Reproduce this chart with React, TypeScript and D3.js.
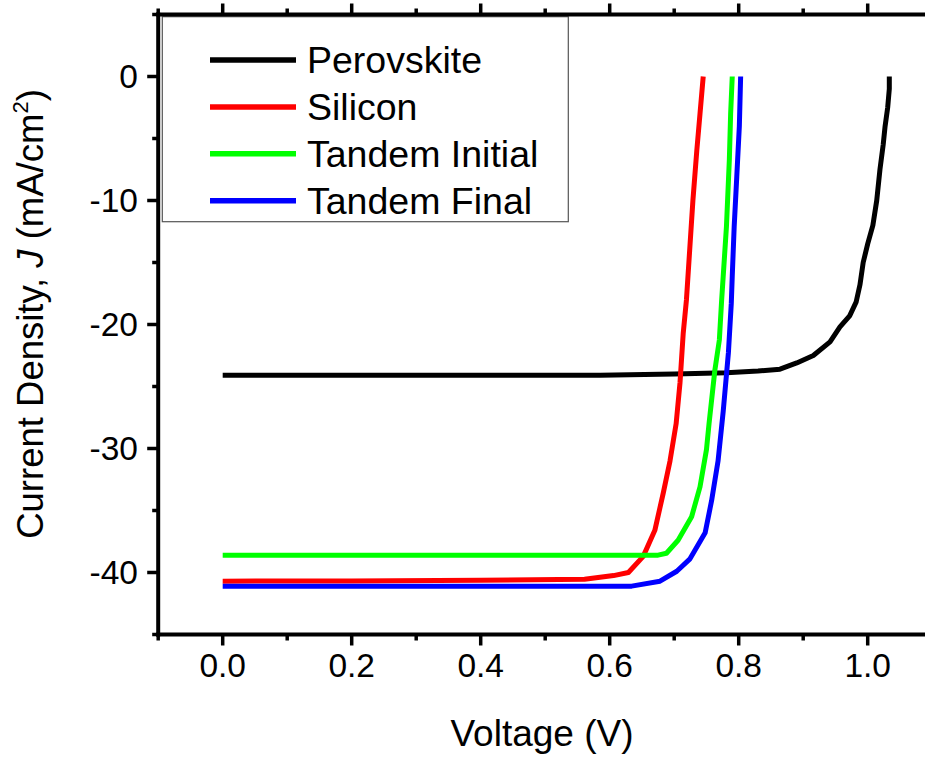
import React from "react";
import * as d3 from "d3";

const seriesNames = ["Perovskite", "Silicon", "Tandem Initial", "Tandem Final"];
const seriesColors = ["#000000", "#ff0000", "#00ff00", "#0000ff"];

const perovskiteV = [0, 0.2, 0.4, 0.585, 0.7, 0.781, 0.83, 0.864, 0.89, 0.9157, 0.9416, 0.957, 0.972, 0.982, 0.988, 0.993, 1.0, 1.008, 1.014, 1.019, 1.024, 1.027, 1.031, 1.0335, 1.0335];
const perovskiteJ = [-24.1, -24.1, -24.1, -24.1, -24.0, -23.9, -23.75, -23.6, -23.1, -22.5, -21.4, -20.2, -19.3, -18.2, -16.8, -15.0, -13.5, -12.0, -10.0, -7.5, -5.5, -4.0, -2.5, -1.0, 0];

const siliconV = [0, 0.2, 0.4, 0.561, 0.606, 0.629, 0.652, 0.67, 0.683, 0.6935, 0.703, 0.709, 0.714, 0.719, 0.724, 0.729, 0.735, 0.74, 0.745];
const siliconJ = [-40.7, -40.68, -40.63, -40.55, -40.25, -40.0, -38.7, -36.6, -33.6, -31.0, -28.0, -24.7, -20.7, -18.0, -14.0, -10.0, -6.0, -3.0, 0];

const initialV = [0, 0.2, 0.4, 0.6, 0.675, 0.688, 0.706, 0.727, 0.74, 0.75, 0.754, 0.763, 0.77, 0.7736, 0.776, 0.781, 0.7855, 0.7875, 0.79];
const initialJ = [-38.6, -38.6, -38.6, -38.6, -38.6, -38.45, -37.4, -35.5, -33.1, -30.1, -28.0, -23.7, -21.25, -18.0, -16.1, -12.1, -6.7, -3.0, 0];

const finalV = [0, 0.2, 0.4, 0.634, 0.678, 0.704, 0.7245, 0.748, 0.758, 0.768, 0.776, 0.784, 0.7885, 0.790, 0.793, 0.797, 0.801, 0.803];
const finalJ = [-41.1, -41.1, -41.1, -41.1, -40.7, -39.9, -38.9, -36.8, -34.2, -31.0, -27.0, -22.3, -18.3, -16.1, -12.1, -8.1, -4.0, 0];

const seriesV = [perovskiteV, siliconV, initialV, finalV];
const seriesJ = [perovskiteJ, siliconJ, initialJ, finalJ];

const xMajorTicks = [0, 0.2, 0.4, 0.6, 0.8, 1.0];
const xMinorTicks = [-0.1, 0.1, 0.3, 0.5, 0.7, 0.9, 1.1];
const yMajorTicks = [0, -10, -20, -30, -40];
const yMinorTicks = [5, -5, -15, -25, -35, -45];

const FONT = "'Liberation Sans', Arial, sans-serif";

export default function App() {
  const x = d3.scaleLinear().domain([-0.1, 1.1]).range([158.2, 932.2]);
  const y = d3.scaleLinear().domain([-45, 5]).range([634.5, 14.5]);
  const line = d3
    .line<[number, number]>()
    .x((d) => x(d[0]))
    .y((d) => y(d[1]));

  const left = x(-0.1);
  const right = x(1.1);
  const top = y(5);
  const bottom = y(-45);
  const axisW = 4;

  return (
    <svg
      width={925}
      height={760}
      style={{ position: "absolute", left: 0, top: 0, background: "#fff" }}
      fontFamily={FONT}
    >
      <rect x={0} y={0} width={925} height={760} fill="#fff" />
      {seriesV.map((vs, i) => {
        const pts: [number, number][] = vs.map((v, k) => [v, seriesJ[i][k]]);
        return (
          <path
            key={i}
            d={line(pts) || ""}
            fill="none"
            stroke={seriesColors[i]}
            strokeWidth={5}
            strokeLinejoin="round"
          />
        );
      })}

      <rect x={162.3} y={16.7} width={406} height={205} fill="#fff" stroke="#555" strokeWidth={1.2} />
      {seriesNames.map((name, i) => {
        const ly = 60 + i * 46.9;
        return (
          <g key={name}>
            <line x1={210} x2={296} y1={ly} y2={ly} stroke={seriesColors[i]} strokeWidth={5.5} />
            <text x={307} y={ly} dy="0.35em" fontSize={37.5} fill="#000">
              {name}
            </text>
          </g>
        );
      })}

      <line x1={left} x2={left} y1={top - 2} y2={bottom + 2} stroke="#000" strokeWidth={axisW} />
      <line x1={left - 2} x2={right + 2} y1={bottom} y2={bottom} stroke="#000" strokeWidth={axisW} />
      <line x1={left - 2} x2={right + 2} y1={top} y2={top} stroke="#000" strokeWidth={axisW} />
      <line x1={right} x2={right} y1={top - 2} y2={bottom + 2} stroke="#000" strokeWidth={axisW} />

      {xMajorTicks.map((t) => (
        <g key={"xm" + t}>
          <line x1={x(t)} x2={x(t)} y1={bottom} y2={bottom + 11} stroke="#000" strokeWidth={3.5} />
          <line x1={x(t)} x2={x(t)} y1={top} y2={top - 11} stroke="#000" strokeWidth={3.5} />
          <text x={x(t)} y={677} textAnchor="middle" fontSize={33.5} fill="#000">
            {t.toFixed(1)}
          </text>
        </g>
      ))}
      {xMinorTicks.map((t) => (
        <g key={"xn" + t}>
          <line x1={x(t)} x2={x(t)} y1={bottom} y2={bottom + 6} stroke="#000" strokeWidth={3.5} />
          <line x1={x(t)} x2={x(t)} y1={top} y2={top - 6} stroke="#000" strokeWidth={3.5} />
        </g>
      ))}

      {yMajorTicks.map((t) => (
        <g key={"ym" + t}>
          <line x1={left} x2={left - 11} y1={y(t)} y2={y(t)} stroke="#000" strokeWidth={3.5} />
          <text x={138} y={y(t)} dy="0.33em" textAnchor="end" fontSize={33.5} fill="#000">
            {String(t)}
          </text>
        </g>
      ))}
      {yMinorTicks.map((t) => (
        <line key={"yn" + t} x1={left} x2={left - 6} y1={y(t)} y2={y(t)} stroke="#000" strokeWidth={3.5} />
      ))}

      <text x={542} y={746} textAnchor="middle" fontSize={37} fill="#000">
        Voltage (V)
      </text>
      <text
        transform="translate(43,314) rotate(-90)"
        textAnchor="middle"
        fontSize={36.5}
        fill="#000"
      >
        Current Density, <tspan fontStyle="italic">J</tspan> (mA/cm
        <tspan fontSize={22} dy={-15}>2</tspan>
        <tspan dy={15}>)</tspan>
      </text>
    </svg>
  );
}
